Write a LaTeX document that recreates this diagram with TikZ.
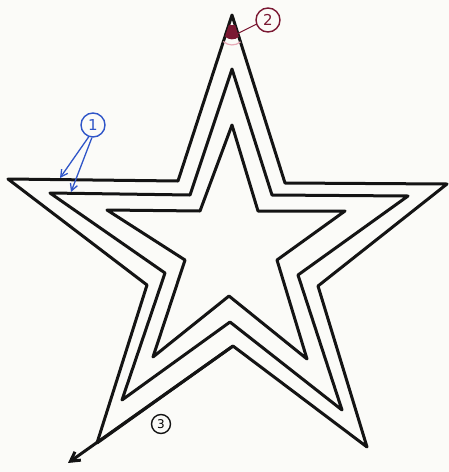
\documentclass[tikz,border=0pt]{standalone}
\usepackage{fontspec}
\setsansfont{DejaVu Sans}
\usetikzlibrary{arrows.meta,calc}
\definecolor{tinte}{HTML}{141414}
\definecolor{blau}{HTML}{2F55C8}
\definecolor{rot}{HTML}{7A1832}
\definecolor{rosa}{HTML}{E7A9B6}
\definecolor{papier}{HTML}{FBFBF8}
\newcommand{\klein}{\fontsize{15}{17}\selectfont}
\tikzset{kontur/.style={tinte,line width=3pt,line join=round,line cap=round},
  nummer/.style={circle,line width=1.4pt,inner sep=1pt,minimum size=24pt,font=\klein\sffamily},
  zeiger/.style={line width=1.3pt,-{Straight Barb[length=2.4mm,width=2.6mm]}}}

\begin{document}
\begin{tikzpicture}[x=1pt,y=-1pt]
\useasboundingbox (0,0) rectangle (449,472);
\fill[papier] (0,0) rectangle (449,472);
% aeusserer Stern
\draw[kontur] (8,179) -- (178,181) -- (232,15) -- (285,183) -- (447,184) -- (318,286) -- (367,447)
  -- (233,346) -- (97,443) -- (147,285) -- cycle;
% mittlerer Stern
\draw[kontur] (50,193) -- (190,195) -- (232,69) -- (272,195) -- (408,196) -- (298,275) -- (342,410)
  -- (230,322) -- (122,400) -- (165,273) -- cycle;
% innerer Stern
\draw[kontur] (107,210) -- (200,211) -- (232,125) -- (258,211) -- (345,211) -- (277,260) -- (307,359)
  -- (229,296) -- (153,357) -- (185,260) -- cycle;
% Spitze oben
\coordinate (spitze) at (232,15);
\fill[rot] ($(spitze)!0.06!(178,181)$) -- ($(spitze)!0.13!(178,181)$) to[bend right=40] ($(spitze)!0.13!(285,183)$)
  -- ($(spitze)!0.06!(285,183)$) -- cycle;
\draw[rosa,line width=1.2pt] ($(spitze)!0.16!(178,181)$) to[bend right=40] ($(spitze)!0.16!(285,183)$);
\node[nummer,draw=rot,text=rot] (zwei) at (268,20) {2};
\draw[rot,line width=1pt] (zwei.200) -- ($(spitze)!0.11!(285,183)$);
% Pfeile 1
\node[nummer,draw=blau,text=blau] (eins) at (93,125) {1};
\coordinate (aussen) at (60,178);
\coordinate (mitte) at (71,192);
\draw[blau,zeiger] (eins.250) -- (aussen);
\draw[blau,zeiger] (eins.265) -- (mitte);
% Pfeil 3
\coordinate (unten) at (233,346);
\coordinate (ende) at (68,463);
\draw[kontur,-{Straight Barb[length=3.2mm,width=3.6mm]}] (unten) -- (ende);
\node[nummer,draw=tinte,minimum size=19pt,inner sep=0.5pt,font=\fontsize{12}{14}\selectfont\sffamily] (drei) at (161,424) {3};
\end{tikzpicture}
\end{document}
